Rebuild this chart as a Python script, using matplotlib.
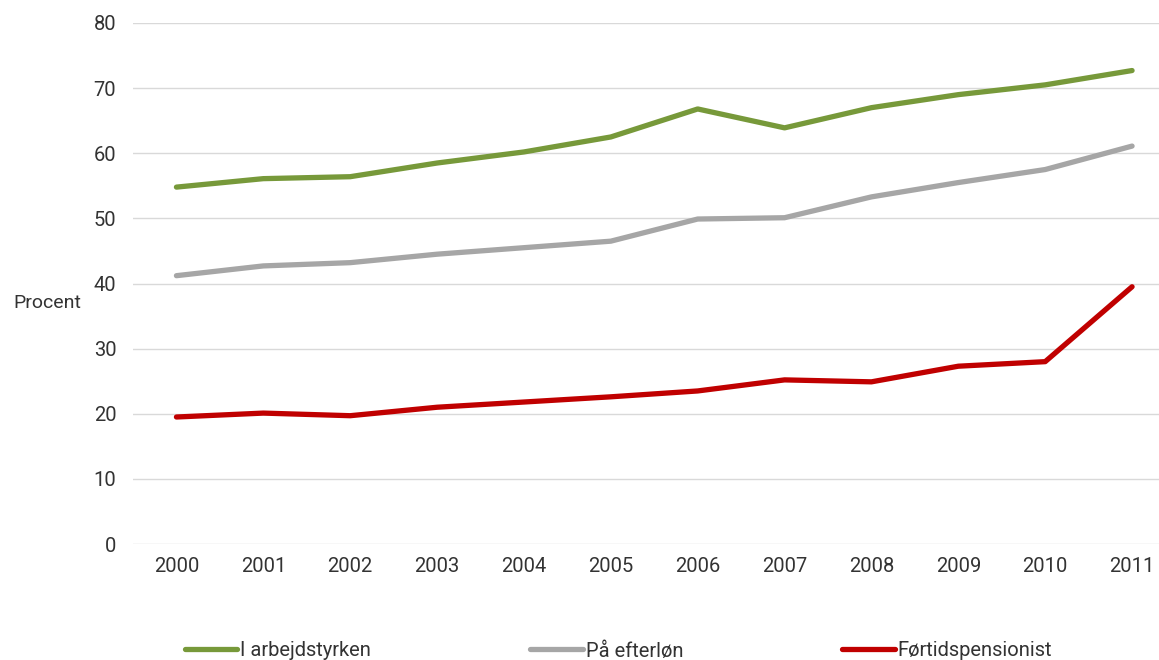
import numpy as np
import matplotlib
matplotlib.use('Agg')
import matplotlib.pyplot as plt

years = ['2000', '2001', '2002', '2003', '2004', '2005',
         '2006', '2007', '2008', '2009', '2010', '2011']
arbejdsstyrke = [54.8, 56.1, 56.4, 58.5, 60.2, 62.5, 66.8, 63.9, 67.0, 69.0, 70.5, 72.7]
efterloen = [41.2, 42.7, 43.2, 44.5, 45.5, 46.5, 49.9, 50.1, 53.3, 55.5, 57.5, 61.1]
foertid = [19.5, 20.1, 19.7, 21.0, 21.8, 22.6, 23.5, 25.2, 24.9, 27.3, 28.0, 39.5]
labels = ['I arbejdstyrken', 'På efterløn', 'Førtidspensionist']
colors = ['#77993A', '#A6A6A6', '#C00000']

plt.rcParams['font.family'] = ['Roboto', 'DejaVu Sans']
W, H = 1159, 660
fig = plt.figure(figsize=(W / 100, H / 100), dpi=100)
ax = fig.add_axes([133 / W, 116 / H, 1026 / W, 521 / H])

x = np.arange(len(years))
for vals, lab, col in zip([arbejdsstyrke, efterloen, foertid], labels, colors):
    ax.plot(x, vals, color=col, lw=3.8, label=lab, solid_capstyle='round')

ax.set_ylim(0, 80)
ax.set_xlim(-0.5, 11.31)
ax.set_yticks(range(0, 81, 10))
ax.set_xticks(x)
ax.set_xticklabels(years)
ax.grid(axis='y', color='#D9D9D9', lw=1)
ax.set_axisbelow(True)
for s in ax.spines.values():
    s.set_visible(False)
ax.tick_params(axis='both', length=0, labelsize=14.5, colors='#333333')
ax.tick_params(axis='y', pad=12)
ax.tick_params(axis='x', pad=9)

fig.text(13 / W, 1 - 303 / H, 'Procent', ha='left', va='center', fontsize=14, color='#333333')

leg = fig.legend(loc='center left', bbox_to_anchor=(185 / W, 1 - 651 / H), ncol=3,
                 frameon=False, fontsize=14.5, handlelength=2.6, handletextpad=0.15,
                 columnspacing=7.9, borderpad=0, borderaxespad=0)
for t in leg.get_texts():
    t.set_color('#333333')

fig.savefig('out.png', dpi=100)
